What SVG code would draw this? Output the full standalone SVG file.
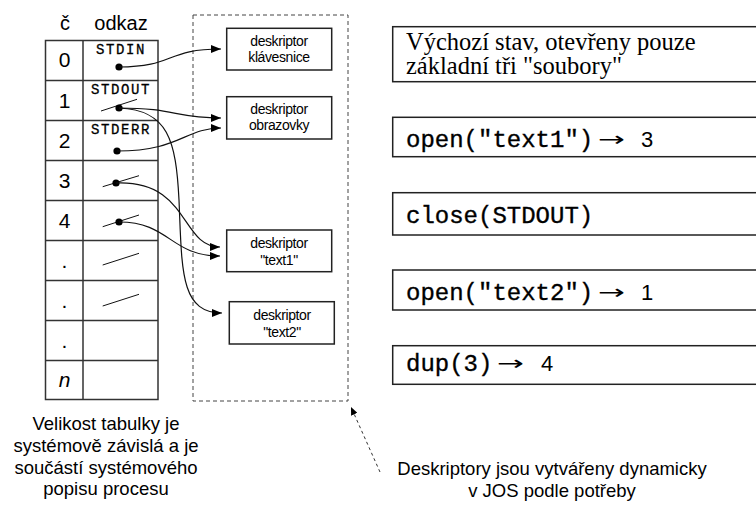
<svg xmlns="http://www.w3.org/2000/svg" width="756" height="513" viewBox="0 0 756 513">
  <style>
    .sans { font-family: "Liberation Sans", Arial, sans-serif; fill: #000; }
    .mono { font-family: "Liberation Mono", "Courier New", monospace; fill: #000; stroke: #000; stroke-width: 0.35; }
    .serif { font-family: "Liberation Serif", "Times New Roman", serif; fill: #000; }
    .arr { font-family: "DejaVu Sans", sans-serif; font-size: 20px; fill: #000; }
    .grid { fill: none; stroke: #333; stroke-width: 1.5; }
    .box { fill: #fff; stroke: #222; stroke-width: 1.5; }
    .null { stroke: #111; stroke-width: 1; }
    .link { fill: none; stroke: #111; stroke-width: 1.2; marker-end: url(#arrow); }
    .dot { fill: #000; }
    .desc { font-size: 14px; letter-spacing: -0.4px; text-anchor: middle; }
    .num { font-size: 21px; text-anchor: middle; }
    .slot { font-size: 14px; letter-spacing: 1.6px; text-anchor: middle; stroke-width: 0.3; }
    .cmd { font-size: 24px; }
  </style>
  <defs>
    <marker id="arrow" markerUnits="userSpaceOnUse" markerWidth="11" markerHeight="8" refX="10" refY="4" orient="auto">
      <path d="M0,0 L10,4 L0,8 z" fill="#000"/>
    </marker>
    <marker id="arrow-small" markerUnits="userSpaceOnUse" markerWidth="9" markerHeight="7" refX="8" refY="3.5" orient="auto">
      <path d="M0,0 L8,3.5 L0,7 z" fill="#000"/>
    </marker>
  </defs>

  <!-- descriptor table of the process -->
  <g id="fd-table">
    <text class="sans" x="65" y="30" font-size="20" text-anchor="middle">č</text>
    <text class="sans" x="121" y="30" font-size="20" text-anchor="middle">odkaz</text>
    <rect class="grid" x="45.5" y="40.5" width="112.5" height="359"/>
    <path class="grid" d="M83,40.5 V399.5 M45.5,80.5 H158 M45.5,120.5 H158 M45.5,160.5 H158 M45.5,200.5 H158 M45.5,240.5 H158 M45.5,280.5 H158 M45.5,320.5 H158 M45.5,360.5 H158"/>
    <text class="sans num" x="64.5" y="67">0</text>
    <text class="sans num" x="64.5" y="108">1</text>
    <text class="sans num" x="64.5" y="148">2</text>
    <text class="sans num" x="64.5" y="188">3</text>
    <text class="sans num" x="64.5" y="228">4</text>
    <text class="sans num" x="64.5" y="268">.</text>
    <text class="sans num" x="64.5" y="308">.</text>
    <text class="sans num" x="64.5" y="348">.</text>
    <text class="sans num" x="64.5" y="387" font-style="italic">n</text>
    <text class="mono slot" x="121" y="54">STDIN</text>
    <text class="mono slot" x="121" y="94">STDOUT</text>
    <text class="mono slot" x="121" y="134">STDERR</text>
    <!-- crossed-out (free) entries -->
    <line class="null" x1="101" y1="111" x2="137" y2="99.3"/>
    <line class="null" x1="102.7" y1="186.7" x2="139" y2="175.7"/>
    <line class="null" x1="102.7" y1="226.7" x2="139" y2="215"/>
    <line class="null" x1="102.7" y1="265" x2="139" y2="253.3"/>
    <line class="null" x1="102.7" y1="306" x2="139" y2="294.3"/>
    <circle class="dot" cx="119" cy="67" r="3.6"/>
    <circle class="dot" cx="119" cy="108" r="3.6"/>
    <circle class="dot" cx="117" cy="151" r="3.6"/>
    <circle class="dot" cx="116" cy="183" r="3.6"/>
    <circle class="dot" cx="119" cy="222" r="3.6"/>
  </g>

  <!-- dynamically created descriptors -->
  <g id="descriptor-area">
    <rect x="193" y="15" width="155" height="386" fill="none" stroke="#444" stroke-width="1" stroke-dasharray="4,3"/>
  </g>
  <g id="desc-keyboard">
    <rect class="box" x="226.7" y="28.3" width="105" height="41.7"/>
    <text class="sans desc" x="279" y="46">deskriptor</text>
    <text class="sans desc" x="279" y="62">klávesnice</text>
  </g>
  <g id="desc-screen">
    <rect class="box" x="226.7" y="96.7" width="105" height="42.3"/>
    <text class="sans desc" x="279" y="113.5">deskriptor</text>
    <text class="sans desc" x="279" y="130">obrazovky</text>
  </g>
  <g id="desc-text1">
    <rect class="box" x="226.7" y="230" width="105" height="41.7"/>
    <text class="sans desc" x="279" y="248">deskriptor</text>
    <text class="sans desc" x="279" y="265">"text1"</text>
  </g>
  <g id="desc-text2">
    <rect class="box" x="229.3" y="301.7" width="105" height="42.3"/>
    <text class="sans desc" x="282" y="320">deskriptor</text>
    <text class="sans desc" x="282" y="336.5">"text2"</text>
  </g>

  <!-- references from table entries to descriptors -->
  <g id="connectors">
    <path class="link" d="M119,67 C175,67 165,49 221,49"/>
    <path class="link" d="M119,108 C175,108 175,118 221,118"/>
    <path class="link" d="M119,108 C168,110 176,140 179,200 C182,270 180,313 222,313"/>
    <path class="link" d="M117,151 C180,151 185,128 221,128"/>
    <path class="link" d="M116,183 C190,180 180,247 220,247"/>
    <path class="link" d="M119,222 C170,222 170,256 220,256"/>
    <path d="M380,472 L351,407" fill="none" stroke="#333" stroke-width="1" stroke-dasharray="3,3" marker-end="url(#arrow-small)"/>
  </g>

  <!-- sequence of system calls -->
  <g id="step-initial">
    <rect class="box" x="392.7" y="26.7" width="400" height="55"/>
    <text class="serif" x="406" y="50" font-size="24.5">Výchozí stav, otevřeny pouze</text>
    <text class="serif" x="406" y="74" font-size="24.5">základní tři "soubory"</text>
  </g>
  <g id="step-open-text1">
    <rect class="box" x="392.7" y="117.3" width="400" height="39.4"/>
    <text class="mono cmd" x="406" y="147">open("text1")</text>
    <text class="arr" x="598" y="146" textLength="27" lengthAdjust="spacingAndGlyphs">→</text>
    <text class="sans" x="641" y="147" font-size="22">3</text>
  </g>
  <g id="step-close">
    <rect class="box" x="392.7" y="192.7" width="400" height="42.3"/>
    <text class="mono cmd" x="406" y="223">close(STDOUT)</text>
  </g>
  <g id="step-open-text2">
    <rect class="box" x="392.7" y="270" width="400" height="40"/>
    <text class="mono cmd" x="406" y="300">open("text2")</text>
    <text class="arr" x="598" y="299" textLength="27" lengthAdjust="spacingAndGlyphs">→</text>
    <text class="sans" x="641" y="300" font-size="22">1</text>
  </g>
  <g id="step-dup">
    <rect class="box" x="392.7" y="345.7" width="400" height="38.6"/>
    <text class="mono cmd" x="406" y="371">dup(3)</text>
    <text class="arr" x="497" y="370" textLength="27" lengthAdjust="spacingAndGlyphs">→</text>
    <text class="sans" x="541" y="371" font-size="22">4</text>
  </g>

  <!-- notes -->
  <g id="note-table" class="sans" font-size="18.5" text-anchor="middle">
    <text x="106" y="430">Velikost tabulky je</text>
    <text x="106" y="452">systémově závislá a je</text>
    <text x="106" y="473.5">součástí systémového</text>
    <text x="106" y="495">popisu procesu</text>
  </g>
  <g id="note-descriptors" class="sans" font-size="18.5" text-anchor="middle">
    <text x="552" y="475">Deskriptory jsou vytvářeny dynamicky</text>
    <text x="552" y="497">v JOS podle potřeby</text>
  </g>
</svg>
